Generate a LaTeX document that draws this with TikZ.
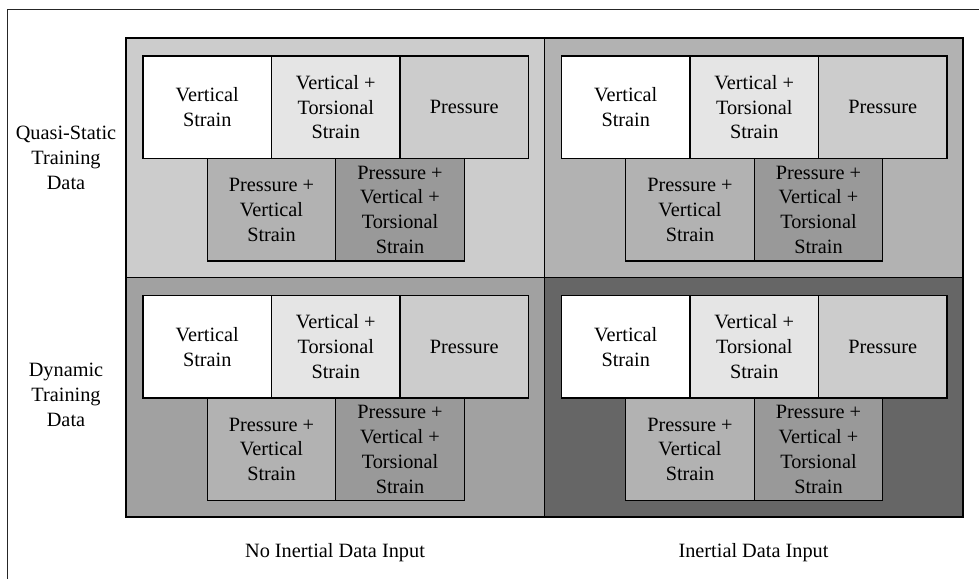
\documentclass[tikz,border=0pt]{standalone}
\usepackage{fontspec}
\setmainfont{Liberation Serif}
\usetikzlibrary{positioning}

\begin{document}
\begin{tikzpicture}[
    x=1pt, y=-1pt,
    every node/.style={align=center, font=\fontsize{20.3}{24.8}\selectfont},
    marco/.style={draw=black!85, line width=1pt},
    panel/.style={draw=black, line width=1.4pt},
    caja/.style={draw=black, line width=1.1pt, inner sep=0pt, outer sep=0pt,
                 minimum width=128.5pt, minimum height=102.5pt}
]
\useasboundingbox (0,0) rectangle (979,579);

% ---- Marco exterior (cortado a la derecha y abajo) ----
\draw[marco] (979,9) -- (7,9) -- (7,579);

% ---- Cuatro paneles con sus cinco cajas ----
\foreach \p/\X/\Y/\fondo in {qn/126/38/black!20, qi/544.5/38/black!30,
                              dn/126/277.5/black!37, di/544.5/277.5/black!60}{
    \draw[panel, fill=\fondo] (\X,\Y) rectangle ++(418.5,239.5);
    \node[caja, fill=white, anchor=north west] (\p-v) at (\X+17,\Y+18) {Vertical\\Strain};
    \node[caja, fill=black!10, right=0pt of \p-v] (\p-vt) {Vertical +\\Torsional\\Strain};
    \node[caja, fill=black!20, right=0pt of \p-vt] (\p-p) {Pressure};
    \node[caja, fill=black!30, anchor=north west] (\p-pv) at (\p-v.south) {Pressure +\\Vertical\\Strain};
    \node[caja, fill=black!40, right=0pt of \p-pv] (\p-pvt) {Pressure +\\Vertical +\\Torsional\\Strain};
}

% ---- Etiquetas de filas ----
\node (fila qs) at (66,158) {Quasi-Static\\Training\\Data};
\node (fila din) at (66,395) {Dynamic\\Training\\Data};

% ---- Etiquetas de columnas ----
\node (col no) at (335,553) {No Inertial Data Input};
\node (col si) at (753.5,553) {Inertial Data Input};

\end{tikzpicture}
\end{document}
